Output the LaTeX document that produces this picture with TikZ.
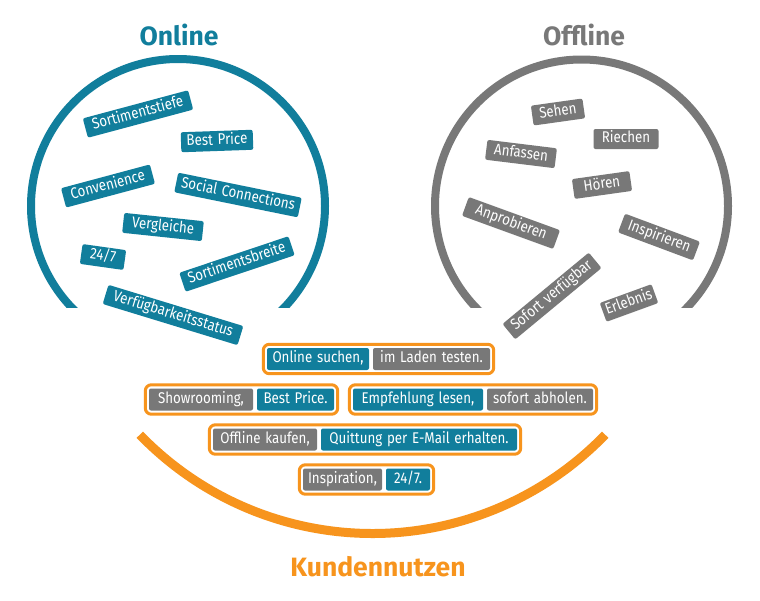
\documentclass[tikz,border=0pt]{standalone}
\usepackage{fontspec}
\setmainfont{Fira Sans}
\newfontfamily\lblfont{Fira Sans}[FakeStretch=0.86, WordSpace=1.35]
\usetikzlibrary{fit}
\definecolor{teal1}{HTML}{117E9C}
\definecolor{grey1}{HTML}{787878}
\definecolor{orange1}{HTML}{F7941D}
\begin{document}
\begin{tikzpicture}[x=1pt,y=-1pt,
  lbl/.style={rounded corners=2pt, text=white, font=\lblfont\fontsize{15.5}{18}\selectfont,
    minimum height=20pt, inner xsep=3pt, inner ysep=0pt, text height=11pt, text depth=3.5pt},
  on/.style={lbl, fill=teal1},
  off/.style={lbl, fill=grey1},
  blbl/.style={minimum height=22pt},
  frame/.style={draw=orange1, line width=3pt, rounded corners=6pt, inner sep=3.5pt},
  title/.style={font=\fontsize{26.5}{30}\selectfont\bfseries}]
\useasboundingbox (0,0) rectangle (760,600);
\fill[white] (0,0) rectangle (760,600);
% circles
\begin{scope}
  \clip (0,0) rectangle (760,307);
  \draw[teal1, line width=8pt] (178,206) circle[radius=147];
  \draw[grey1, line width=8pt] (581.5,206) circle[radius=146.5];
\end{scope}
\draw[orange1, line width=9pt] (372.5,210) ++(44:323.5) arc[start angle=44, end angle=136, radius=323.5];
% titles
\node[title, text=teal1] (tOn) at (179,35) {Online};
\node[title, text=grey1] (tOff) at (584,35) {Offline};
\node[title, text=orange1] (tKn) at (378,567) {Kundennutzen};
% online labels
\node[on, rotate=15, minimum width=109pt] (o1) at (138,114) {Sortimentstiefe};
\node[on, rotate=2, minimum width=72pt] (o2) at (217,141) {Best Price};
\node[on, rotate=15, minimum width=92pt] (o3) at (108,186) {Convenience};
\node[on, rotate=-11.5, minimum width=126pt] (o4) at (238,195) {Social Connections};
\node[on, rotate=-6, minimum width=80pt] (o5) at (163,227) {Vergleiche};
\node[on, rotate=-8, minimum width=44pt] (o6) at (103,257) {24/7};
\node[on, rotate=18.5, minimum width=115pt] (o7) at (237,264) {Sortimentsbreite};
\node[on, rotate=-17, minimum width=141pt] (o8) at (173,315) {Verfügbarkeitsstatus};
% offline labels
\node[off, rotate=8, minimum width=52pt] (f1) at (558,112) {Sehen};
\node[off, rotate=0, minimum width=65pt] (f2) at (626,139) {Riechen};
\node[off, rotate=-7, minimum width=70pt] (f3) at (521,154) {Anfassen};
\node[off, rotate=8, minimum width=58pt] (f4) at (602,185) {Hören};
\node[off, rotate=-20, minimum width=97pt] (f5) at (511,223) {Anprobieren};
\node[off, rotate=-20.5, minimum width=80pt] (f6) at (659,237) {Inspirieren};
\node[off, rotate=39.6, minimum width=112pt] (f7) at (552,296) {Sofort verfügbar};
\node[off, rotate=20, minimum width=55pt] (f8) at (629,303) {Erlebnis};
% bottom rows
\node[on, blbl, minimum width=102pt] (r1a) at (318,359) {Online suchen,};
\node[off, blbl, minimum width=117pt] (r1b) at (431.5,359) {im Laden testen.};
\node[frame, fit=(r1a)(r1b)] (r1) {};
\node[off, blbl, minimum width=104pt] (r2a) at (201,399.5) {Showrooming,};
\node[on, blbl, minimum width=77pt] (r2b) at (295.5,399.5) {Best Price.};
\node[frame, fit=(r2a)(r2b)] (r2) {};
\node[on, blbl, minimum width=130pt] (r3a) at (418,399.5) {Empfehlung lesen,};
\node[off, blbl, minimum width=106pt] (r3b) at (540,399.5) {sofort abholen.};
\node[frame, fit=(r3a)(r3b)] (r3) {};
\node[off, blbl, minimum width=104pt] (r4a) at (265,439.5) {Offline kaufen,};
\node[on, blbl, minimum width=196pt] (r4b) at (419,439.5) {Quittung per E-Mail erhalten.};
\node[frame, fit=(r4a)(r4b)] (r4) {};
\node[off, blbl, minimum width=79pt] (r5a) at (342.5,479.5) {Inspiration,};
\node[on, blbl, minimum width=44pt] (r5b) at (408,479.5) {24/7.};
\node[frame, fit=(r5a)(r5b)] (r5) {};
\end{tikzpicture}
\end{document}
